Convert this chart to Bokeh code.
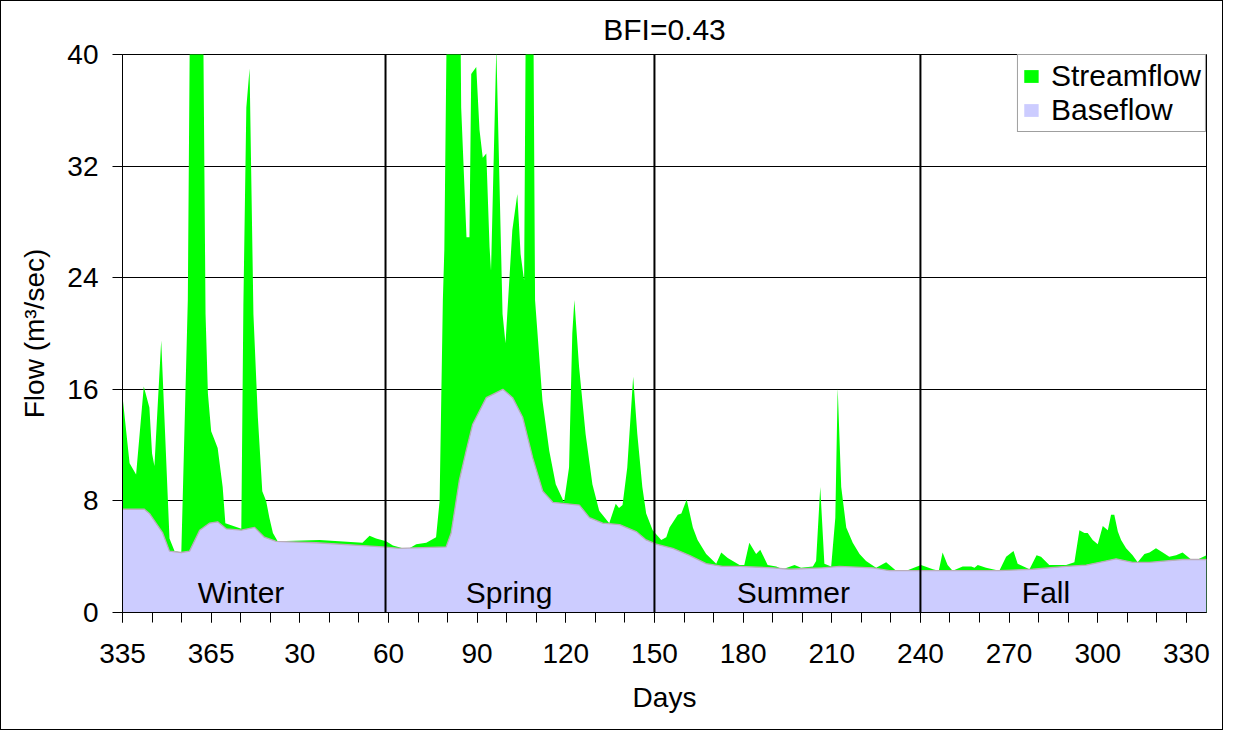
from bokeh.plotting import figure
from bokeh.models import Range1d, FixedTicker, Span, Label
from bokeh.embed import file_html
from bokeh.resources import INLINE

# ---- data (sequential day: 335..365 then 366.. = day-of-year + 365) ----
stream_day = [335, 337.4, 339.6, 342.2, 344.1, 345.0, 345.8, 348.1, 350.9, 352.6, 354.9, 357.1, 358.0, 362.1,
              363.1, 363.9, 365.0, 366.1, 367.2, 368.9, 369.8, 375.2, 375.9, 376.9, 378.0, 379.3, 380.8, 382.3,
              383.6, 384.7, 385.9, 387.5, 401.7, 416.2, 418.6, 420.8, 424.2, 426.5, 429.8, 432.1, 434.4, 437.8,
              441.1, 442.3, 443.4, 443.9, 444.8, 449.3, 449.6, 451.4, 452.4, 453.0, 454.7, 455.8, 456.9, 458.1,
              459.2, 459.7, 461.5, 463.6, 464.6, 466.9, 468.6, 469.7, 470.9, 471.5, 474.0, 474.6, 477.1, 479.4,
              481.6, 484.4, 486.1, 487.2, 487.9, 489.5, 491.7, 494.0, 496.3, 499.7, 501.9, 503.0, 504.2, 505.8,
              507.8, 509.2, 510.9, 512.2, 514.4, 517.3, 519.0, 520.1, 522.9, 524.1, 525.9, 528.0, 529.6, 532.5,
              535.9, 537.6, 539.8, 543.8, 545.4, 547.1, 549.4, 550.8, 553.3, 556.2, 558.4, 562.4, 564.6, 568.6,
              569.7, 571.1, 572.5, 574.8, 576.2, 577.0, 578.2, 579.9, 582.1, 584.4, 586.6, 590.0, 593.4, 596.8,
              600.2, 605.2, 609.2, 611.2, 612.5, 614.2, 615.9, 619.3, 622.2, 623.3, 624.4, 627.2, 631.7, 634.0,
              636.5, 637.9, 641.9, 644.3, 645.8, 648.6, 654.3, 657.1, 658.8, 660.5, 661.6, 663.3, 665.0, 666.7,
              668.4, 669.5, 670.6, 671.8, 672.9, 674.6, 676.8, 678.5, 680.8, 682.5, 684.7, 687.0, 689.2, 691.5,
              693.7, 696.6, 698.8, 701.8]
stream_flow = [15.5, 10.7, 9.9, 16.2, 14.7, 11.4, 10.5, 19.5, 5.3, 4.4, 4.3, 22.4, 48, 48,
               21.4, 15.7, 13.0, 12.4, 11.8, 9.0, 6.4, 6.0, 22.0, 36.2, 39.0, 21.4, 14.0, 8.7,
               8.0, 6.8, 5.7, 5.1, 5.2, 5.0, 5.5, 5.3, 5.1, 4.8, 4.6, 4.6, 4.9, 5.0,
               5.4, 8.0, 22.4, 26.0, 44, 44, 36.2, 26.9, 26.9, 38.6, 39.1, 34.6, 32.6, 32.9,
               26.2, 24.5, 40.5, 21.4, 19.3, 27.4, 30.0, 25.7, 23.8, 44, 44, 22.4, 15.2, 11.6,
               9.2, 7.9, 10.4, 20.0, 22.4, 17.6, 12.8, 9.2, 7.3, 6.4, 7.8, 7.5, 7.7, 10.4,
               16.9, 12.8, 9.0, 7.1, 5.9, 5.2, 5.4, 6.1, 7.0, 7.1, 8.1, 6.1, 5.2, 4.2,
               3.5, 4.3, 3.9, 3.4, 3.4, 5.0, 4.2, 4.5, 3.4, 3.3, 3.1, 3.4, 3.2, 3.3,
               3.7, 9.0, 3.5, 3.3, 6.8, 16.1, 9.0, 6.1, 5.0, 4.2, 3.7, 3.2, 3.6, 3.0,
               3.0, 3.4, 3.1, 3.0, 4.3, 3.4, 3.0, 3.3, 3.3, 3.2, 3.4, 3.2, 3.0, 4.0,
               4.4, 3.5, 3.1, 4.1, 4.0, 3.4, 3.4, 3.6, 5.9, 5.7, 5.7, 5.2, 4.9, 6.2,
               5.9, 7.0, 7.0, 5.8, 5.2, 4.6, 4.1, 3.6, 4.2, 4.3, 4.6, 4.3, 4.0, 4.1,
               4.3, 3.8, 3.8, 4.1]

base_day = [335, 342.4, 344.1, 348.6, 350.9, 354.9, 357.7, 361.1, 364.4, 367.2, 370.1, 375.2, 379.7, 383.0,
            387.0, 400.5, 416.3, 423.1, 428.7, 444.5, 446.2, 449.0, 451.3, 453.5, 458.1, 463.7, 467.0, 470.4,
            473.8, 477.2, 480.6, 489.6, 493.0, 497.5, 503.2, 508.8, 512.2, 515.6, 521.2, 526.8, 532.5, 538.1,
            543.8, 555.0, 560.7, 571.9, 577.6, 588.9, 594.5, 631.7, 643.0, 654.3, 661.1, 665.6, 671.2, 676.8,
            682.5, 688.1, 693.7, 701.8]
base_flow = [7.4, 7.4, 7.1, 5.7, 4.4, 4.3, 4.4, 5.9, 6.4, 6.5, 6.0, 5.9, 6.1, 5.4,
             5.1, 5.0, 4.8, 4.7, 4.6, 4.7, 5.7, 9.5, 11.6, 13.5, 15.4, 16.0, 15.4, 14.0,
             11.1, 8.7, 7.9, 7.7, 6.8, 6.4, 6.3, 5.8, 5.2, 4.9, 4.6, 4.1, 3.5, 3.3,
             3.3, 3.2, 3.1, 3.2, 3.3, 3.2, 3.0, 3.0, 3.1, 3.3, 3.4, 3.6, 3.85, 3.6,
             3.6, 3.7, 3.8, 3.8]

season_names = ["Winter", "Spring", "Summer", "Fall"]
season_bounds = [424, 515, 605]
season_label_x = [375.1, 465.8, 562.0, 647.5]

x_major = list(range(335, 700, 30))
x_minor = list(range(335, 706, 10))
x_labels = {d: str(d if d <= 365 else d - 365) for d in x_major}
y_ticks = [0, 8, 16, 24, 32, 40]

FONT = "Liberation Sans"

p = figure(width=1223, height=730, output_backend="svg", toolbar_location=None,
           x_range=Range1d(335, 701.8), y_range=Range1d(0, 40),
           min_border_left=121, min_border_right=18, min_border_top=53, min_border_bottom=119)
p.styles = {"border": "1px solid black"}

p.title.text = "BFI=0.43"
p.title.align = "center"
p.title.text_font = FONT
p.title.text_font_size = "30px"
p.title.text_font_style = "normal"
p.title.text_color = "black"
p.title.standoff = 17

p.varea(x=stream_day, y1=0, y2=stream_flow, color="#00FF00", legend_label="Streamflow")
p.varea(x=base_day, y1=0, y2=base_flow, color="#CCCCFF", legend_label="Baseflow")
p.line(base_day, base_flow, color="#b9adb9", line_width=1.3)

for b in season_bounds:
    p.add_layout(Span(location=b, dimension="height", line_color="black", line_width=2))

for name, sx in zip(season_names, season_label_x):
    p.add_layout(Label(x=sx, y=1.45, text=name, text_align="center", text_baseline="middle",
                       text_font=FONT, text_font_size="30px", text_color="black"))

p.outline_line_color = "black"
p.outline_line_width = 1

p.xgrid.visible = False
p.ygrid.grid_line_color = "black"
p.ygrid.grid_line_width = 1

xa = p.xaxis[0]
xa.ticker = FixedTicker(ticks=x_major, minor_ticks=x_minor)
xa.major_label_overrides = x_labels
ya = p.yaxis[0]
ya.ticker = FixedTicker(ticks=y_ticks, minor_ticks=[])

for ax in (xa, ya):
    ax.axis_line_color = "black"
    ax.major_tick_line_color = "black"
    ax.minor_tick_line_color = "black"
    ax.major_tick_in = 0
    ax.major_tick_out = 10
    ax.minor_tick_in = 0
    ax.minor_tick_out = 10
    ax.major_label_text_font = FONT
    ax.major_label_text_font_size = "28px"
    ax.major_label_text_color = "black"
    ax.axis_label_text_font = FONT
    ax.axis_label_text_font_size = "28px"
    ax.axis_label_text_font_style = "normal"
    ax.axis_label_text_color = "black"

xa.axis_label = "Days"
xa.major_label_standoff = 21
xa.axis_label_standoff = 16
ya.axis_label = "Flow (m³/sec)"
ya.major_label_standoff = 14
ya.axis_label_standoff = 14

lg = p.legend[0]
lg.location = "top_right"
lg.margin = 0
lg.padding = 4
lg.spacing = 0
lg.border_line_color = "#404040"
lg.border_line_width = 1
lg.glyph_width = 18
lg.glyph_height = 16
lg.label_height = 16
lg.label_standoff = 11
lg.label_text_font = FONT
lg.label_text_font_size = "30px"
lg.label_text_line_height = 0.85
lg.label_text_color = "black"
lg.background_fill_alpha = 1

open("out.html", "w").write(file_html(p, INLINE))
